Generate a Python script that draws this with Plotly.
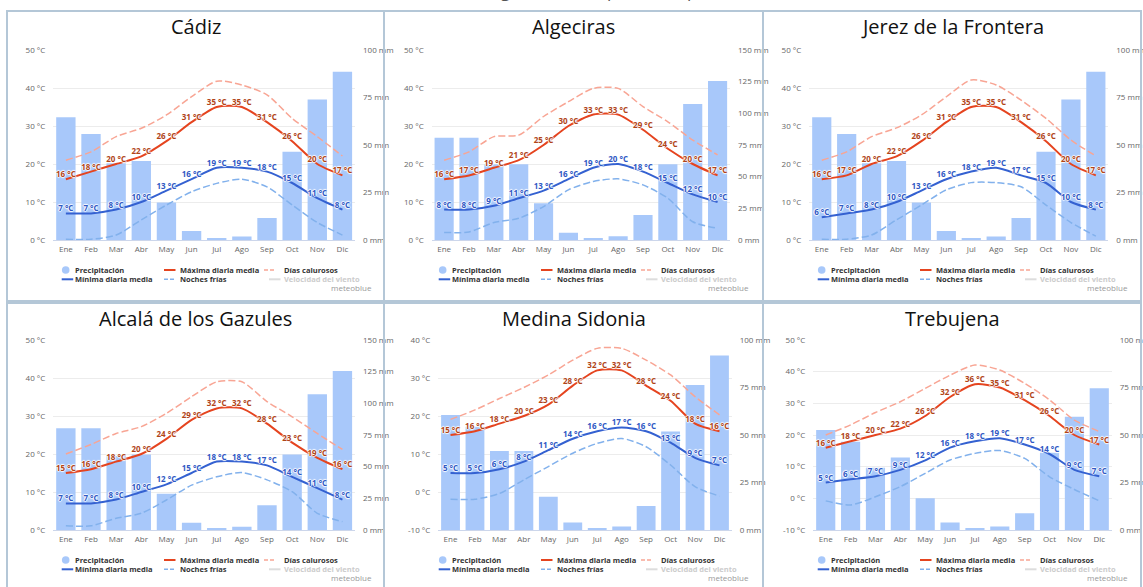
import plotly.graph_objects as go

W, H = 1143, 587
months = ["Ene", "Feb", "Mar", "Abr", "May", "Jun", "Jul", "Ago", "Sep", "Oct", "Nov", "Dic"]
cities = ["Cádiz", "Algeciras", "Jerez de la Frontera", "Alcalá de los Gazules", "Medina Sidonia", "Trebujena"]

# precipitation (mm)
precip_cadiz = [64.6, 55.8, 40.4, 41.6, 19.8, 4.7, 0.7, 1.8, 11.6, 46.5, 73.9, 88.6]
precip_algeciras = [80.8, 80.8, 59.8, 59.8, 29.0, 5.8, 1.6, 2.9, 19.7, 59.8, 107.4, 125.5]
precip_jerez = [64.6, 55.8, 40.4, 41.6, 19.8, 4.7, 0.7, 1.8, 11.6, 46.5, 73.9, 88.6]
precip_alcala = [80.3, 80.3, 58.4, 59.7, 28.7, 5.8, 1.6, 2.6, 19.5, 59.7, 107.1, 125.5]
precip_medina = [60.5, 54.4, 41.6, 41.6, 17.5, 3.9, 0.7, 1.8, 12.6, 51.8, 76.3, 91.8]
precip_trebujena = [52.6, 46.5, 32.8, 38.1, 16.7, 3.9, 0.7, 1.8, 8.8, 40.7, 59.6, 74.6]

# mean daily maximum (°C)
tmax_cadiz = [16, 18, 20, 22, 26, 31, 35, 35, 31, 26, 20, 17]
tmax_algeciras = [16, 17, 19, 21, 25, 30, 33, 33, 29, 24, 20, 17]
tmax_jerez = [16, 17, 20, 22, 26, 31, 35, 35, 31, 26, 20, 17]
tmax_alcala = [15, 16, 18, 20, 24, 29, 32, 32, 28, 23, 19, 16]
tmax_medina = [15, 16, 18, 20, 23, 28, 32, 32, 28, 24, 18, 16]
tmax_trebujena = [16, 18, 20, 22, 26, 32, 36, 35, 31, 26, 20, 17]

# mean daily minimum (°C)
tmin_cadiz = [7, 7, 8, 10, 13, 16, 19, 19, 18, 15, 11, 8]
tmin_algeciras = [8, 8, 9, 11, 13, 16, 19, 20, 18, 15, 12, 10]
tmin_jerez = [6, 7, 8, 10, 13, 16, 18, 19, 17, 15, 10, 8]
tmin_alcala = [7, 7, 8, 10, 12, 15, 18, 18, 17, 14, 11, 8]
tmin_medina = [5, 5, 6, 8, 11, 14, 16, 17, 16, 13, 9, 7]
tmin_trebujena = [5, 6, 7, 9, 12, 16, 18, 19, 17, 14, 9, 7]

# hot days (°C)
hot_cadiz = [21, 23.2, 27.2, 29.4, 32.9, 37.7, 41.8, 40.8, 38.2, 32, 27.2, 22.1]
hot_algeciras = [21, 23.2, 27.2, 27.6, 32.5, 36.4, 39.9, 39.9, 35.1, 31.1, 26.3, 22.4]
hot_jerez = [21, 23.2, 27.2, 29.5, 32.9, 37.7, 42.1, 40.8, 36.8, 32, 26.3, 22.1]
hot_alcala = [20, 22.5, 25.4, 27.2, 30.7, 35.1, 39, 39, 33.8, 29.8, 25.4, 21.2]
hot_medina = [19.1, 21.6, 24.6, 27.5, 30.8, 34.7, 37.8, 37.8, 34.7, 30.8, 25.1, 20.3]
hot_trebujena = [20, 23.2, 27.1, 30.5, 34.7, 38.9, 42.1, 40.5, 36.3, 31.1, 24.7, 21.1]

# cold nights (°C)
cold_cadiz = [0.2, 0.2, 1.3, 5.3, 9.2, 12.7, 14.9, 16, 14, 9.2, 4.6, 1.3]
cold_algeciras = [2, 2.1, 4.6, 5.7, 8.8, 13.2, 15.4, 16.1, 14.5, 11, 4.8, 3.1]
cold_jerez = [0.2, 0.2, 1.3, 5.3, 9.2, 13.2, 15.1, 15.1, 14, 9.2, 4.6, 1]
cold_alcala = [1.1, 1.1, 3.1, 4.4, 7.9, 11.8, 14, 15.1, 13.2, 10.1, 4.4, 2.2]
cold_medina = [-1.9, -1.9, -0.4, 3.2, 6.7, 10.2, 12.8, 14.1, 11.9, 7.1, 1.4, -1.1]
cold_trebujena = [-0.8, -2.1, 0.5, 3.7, 7.9, 12.1, 14.2, 15.1, 12.6, 6.8, 2.8, -0.8]

temp_ticks_a = [0, 10, 20, 30, 40, 50]
temp_ticks_b = [-10, 0, 10, 20, 30, 40]
temp_ticks_c = [-10, 0, 10, 20, 30, 40, 50]
precip_ticks_100 = [0, 25, 50, 75, 100]
precip_ticks_150 = [0, 25, 50, 75, 100, 125, 150]

legend_labels = ["Precipitación", "Máxima diaria media", "Días calurosos",
                 "Mínima diaria media", "Noches frías", "Velocidad del viento"]

series = [
    (precip_cadiz, tmax_cadiz, tmin_cadiz, hot_cadiz, cold_cadiz, temp_ticks_a, precip_ticks_100),
    (precip_algeciras, tmax_algeciras, tmin_algeciras, hot_algeciras, cold_algeciras, temp_ticks_a, precip_ticks_150),
    (precip_jerez, tmax_jerez, tmin_jerez, hot_jerez, cold_jerez, temp_ticks_a, precip_ticks_100),
    (precip_alcala, tmax_alcala, tmin_alcala, hot_alcala, cold_alcala, temp_ticks_a, precip_ticks_150),
    (precip_medina, tmax_medina, tmin_medina, hot_medina, cold_medina, temp_ticks_b, precip_ticks_100),
    (precip_trebujena, tmax_trebujena, tmin_trebujena, hot_trebujena, cold_trebujena, temp_ticks_c, precip_ticks_100),
]

# layout geometry in pixels: panel border box, plot area box
panels = [
    ((7, 11, 384, 301), (53.3, 50, 355, 240)),
    ((384, 11, 763, 301), (431.7, 50, 730, 240)),
    ((763, 11, 1141, 301), (809.3, 50, 1108.3, 240)),
    ((7, 303, 384, 600), (53.3, 340, 355, 530)),
    ((384, 303, 763, 600), (438.3, 340, 731.7, 530)),
    ((763, 303, 1141, 600), (813.3, 340, 1111.7, 530)),
]

C_BAR = "#a8c8fa"
C_MAX = "#e5441f"
C_MIN = "#3461d1"
C_HOT = "#f8a594"
C_COLD = "#82b1ec"
C_MAX_T = "#b04418"
C_MIN_T = "#2f58c4"
FONT = "Open Sans"
HALO = "1px 0px 1px #fff, -1px 0px 1px #fff, 0px 1px 1px #fff, 0px -1px 1px #fff"


def px_x(v):
    return v / W


def px_y(v):
    return 1 - v / H


fig = go.Figure()
layout = dict(width=W, height=H, margin=dict(l=0, r=0, t=0, b=0, pad=0, autoexpand=False),
              paper_bgcolor="white", plot_bgcolor="rgba(0,0,0,0)",
              showlegend=False, bargap=0.23,
              font=dict(family=FONT, color="#666", size=8))
shapes = []
annotations = []

for p, (city, data, geom) in enumerate(zip(cities, series, panels)):
    precip, tmax, tmin, hot, cold, tticks, pticks = data
    (bx0, by0, bx1, by1), (x0, y0, x1, y1) = geom
    xn = p + 1
    yb = 2 * p + 1   # precipitation (base, right)
    yt = 2 * p + 2   # temperature (overlay, left)
    xname = "x" if xn == 1 else f"x{xn}"
    ybname = "y" if yb == 1 else f"y{yb}"
    ytname = f"y{yt}"
    xkey = "xaxis" if xn == 1 else f"xaxis{xn}"
    ybkey = "yaxis" if yb == 1 else f"yaxis{yb}"
    ytkey = f"yaxis{yt}"

    layout[xkey] = dict(domain=[px_x(x0), px_x(x1)], anchor=ybname, type="category",
                        range=[-0.5, 11.5], showgrid=False, showline=True,
                        linecolor="#ccd6eb", linewidth=1, ticks="", zeroline=False,
                        tickfont=dict(size=8, color="#666", family=FONT),
                        ticklabelstandoff=1, fixedrange=True, automargin=False)
    layout[ybkey] = dict(domain=[px_y(y1), px_y(y0)], anchor=xname, side="right",
                         range=[pticks[0], pticks[-1]], tickvals=pticks,
                         ticktext=[f"{v} mm" for v in pticks], showgrid=False,
                         zeroline=False, showline=False, ticks="",
                         ticklabelstandoff=7, automargin=False,
                         tickfont=dict(size=8, color="#666", family=FONT))
    layout[ytkey] = dict(overlaying=ybname, anchor=xname, side="left",
                         range=[tticks[0], tticks[-1]], tickvals=tticks,
                         ticktext=[f"{v} °C" for v in tticks], showgrid=True,
                         gridcolor="#ececec", gridwidth=1, zeroline=False,
                         showline=False, ticks="", ticklabelstandoff=7, automargin=False,
                         tickfont=dict(size=8, color="#666", family=FONT))

    fig.add_trace(go.Bar(x=months, y=precip, xaxis=xname, yaxis=ybname,
                         marker=dict(color=C_BAR, line=dict(width=0)), name=legend_labels[0]))
    fig.add_trace(go.Scatter(x=months, y=hot, xaxis=xname, yaxis=ytname, mode="lines",
                             line=dict(color=C_HOT, width=1.5, dash="7px,3px", shape="spline", smoothing=0.7),
                             name=legend_labels[2]))
    fig.add_trace(go.Scatter(x=months, y=cold, xaxis=xname, yaxis=ytname, mode="lines",
                             line=dict(color=C_COLD, width=1.5, dash="7px,3px", shape="spline", smoothing=0.7),
                             name=legend_labels[4]))
    fig.add_trace(go.Scatter(x=months, y=tmax, xaxis=xname, yaxis=ytname, mode="lines",
                             line=dict(color=C_MAX, width=2, shape="spline", smoothing=0.7),
                             name=legend_labels[1]))
    fig.add_trace(go.Scatter(x=months, y=tmin, xaxis=xname, yaxis=ytname, mode="lines",
                             line=dict(color=C_MIN, width=2, shape="spline", smoothing=0.7),
                             name=legend_labels[3]))
    fig.add_trace(go.Scatter(x=months, y=tmax, xaxis=xname, yaxis=ytname, mode="text",
                             text=[f"{v} °C" for v in tmax], textposition="top center",
                             textfont=dict(size=8, color=C_MAX_T, family=FONT, weight="bold", shadow=HALO),
                             hoverinfo="skip"))
    fig.add_trace(go.Scatter(x=months, y=tmin, xaxis=xname, yaxis=ytname, mode="text",
                             text=[f"{v} °C" for v in tmin], textposition="top center",
                             textfont=dict(size=8, color=C_MIN_T, family=FONT, weight="bold", shadow=HALO),
                             hoverinfo="skip"))

    # panel border
    shapes.append(dict(type="rect", xref="paper", yref="paper",
                       x0=px_x(bx0), x1=px_x(bx1), y0=px_y(by1), y1=px_y(by0),
                       line=dict(color="#b4c7d7", width=2), fillcolor="rgba(0,0,0,0)", layer="above"))
    # panel title
    annotations.append(dict(text=city, xref="paper", yref="paper", x=px_x((bx0 + bx1) / 2),
                            y=px_y(by0 + 15), xanchor="center", yanchor="middle", showarrow=False,
                            font=dict(family=FONT, size=20, color="#111")))

    # hand-drawn legend (two rows, three columns)
    r1 = y1 + 30
    r2 = y1 + 39.3
    cols = [bx0 + 58.7, bx0 + 157, bx0 + 257]
    txt = [bx0 + 66.3, bx0 + 170.7, bx0 + 274.7]
    shapes.append(dict(type="circle", xref="paper", yref="paper",
                       x0=px_x(cols[0] - 3.8), x1=px_x(cols[0] + 3.8),
                       y0=px_y(r1 + 3.8), y1=px_y(r1 - 3.8),
                       fillcolor=C_BAR, line=dict(width=0)))
    legend_marks = [
        (cols[1], r1, C_MAX, "solid"), (cols[2], r1, C_HOT, "dash"),
        (bx0 + 54.7, r2, C_MIN, "solid"), (cols[1], r2, C_COLD, "dash"),
        (bx0 + 262, r2, "#dddddd", "solid"),
    ]
    for lx, ly, col, dsh in legend_marks:
        shapes.append(dict(type="line", xref="paper", yref="paper",
                           x0=px_x(lx), x1=px_x(lx + 11.5), y0=px_y(ly), y1=px_y(ly),
                           line=dict(color=col, width=2 if dsh == "solid" else 1.5,
                                     dash="solid" if dsh == "solid" else "4px,2px")))
    legend_pos = [(txt[0], r1, "#333"), (txt[1], r1, "#333"), (txt[2], r1, "#333"),
                  (txt[0], r2, "#333"), (txt[1], r2, "#333"), (txt[2], r2, "#cccccc")]
    for lab, (tx, ty, tc) in zip(legend_labels, legend_pos):
        annotations.append(dict(text=f"<b>{lab}</b>", xref="paper", yref="paper",
                                x=px_x(tx), y=px_y(ty), xanchor="left", yanchor="middle",
                                showarrow=False, font=dict(family=FONT, size=7.5, color=tc)))
    annotations.append(dict(text="meteoblue", xref="paper", yref="paper",
                            x=px_x(bx0 + 367), y=px_y(y1 + 47.7), xanchor="right", yanchor="middle",
                            showarrow=False, font=dict(family=FONT, size=8, color="#999")))

# overall heading, mostly cut off at the top edge
annotations.append(dict(text="Datos climáticos de algunos municipios de la provincia de Cádiz",
                        xref="paper", yref="paper", x=px_x(580), y=px_y(4), xanchor="center",
                        yanchor="bottom", showarrow=False,
                        font=dict(family=FONT, size=17, color="#555")))

layout["shapes"] = shapes
layout["annotations"] = annotations
fig.update_layout(**layout)
fig.write_html("out.html", config={"displayModeBar": False},
               post_script="document.body.style.margin='0';document.body.style.overflow='hidden';")
